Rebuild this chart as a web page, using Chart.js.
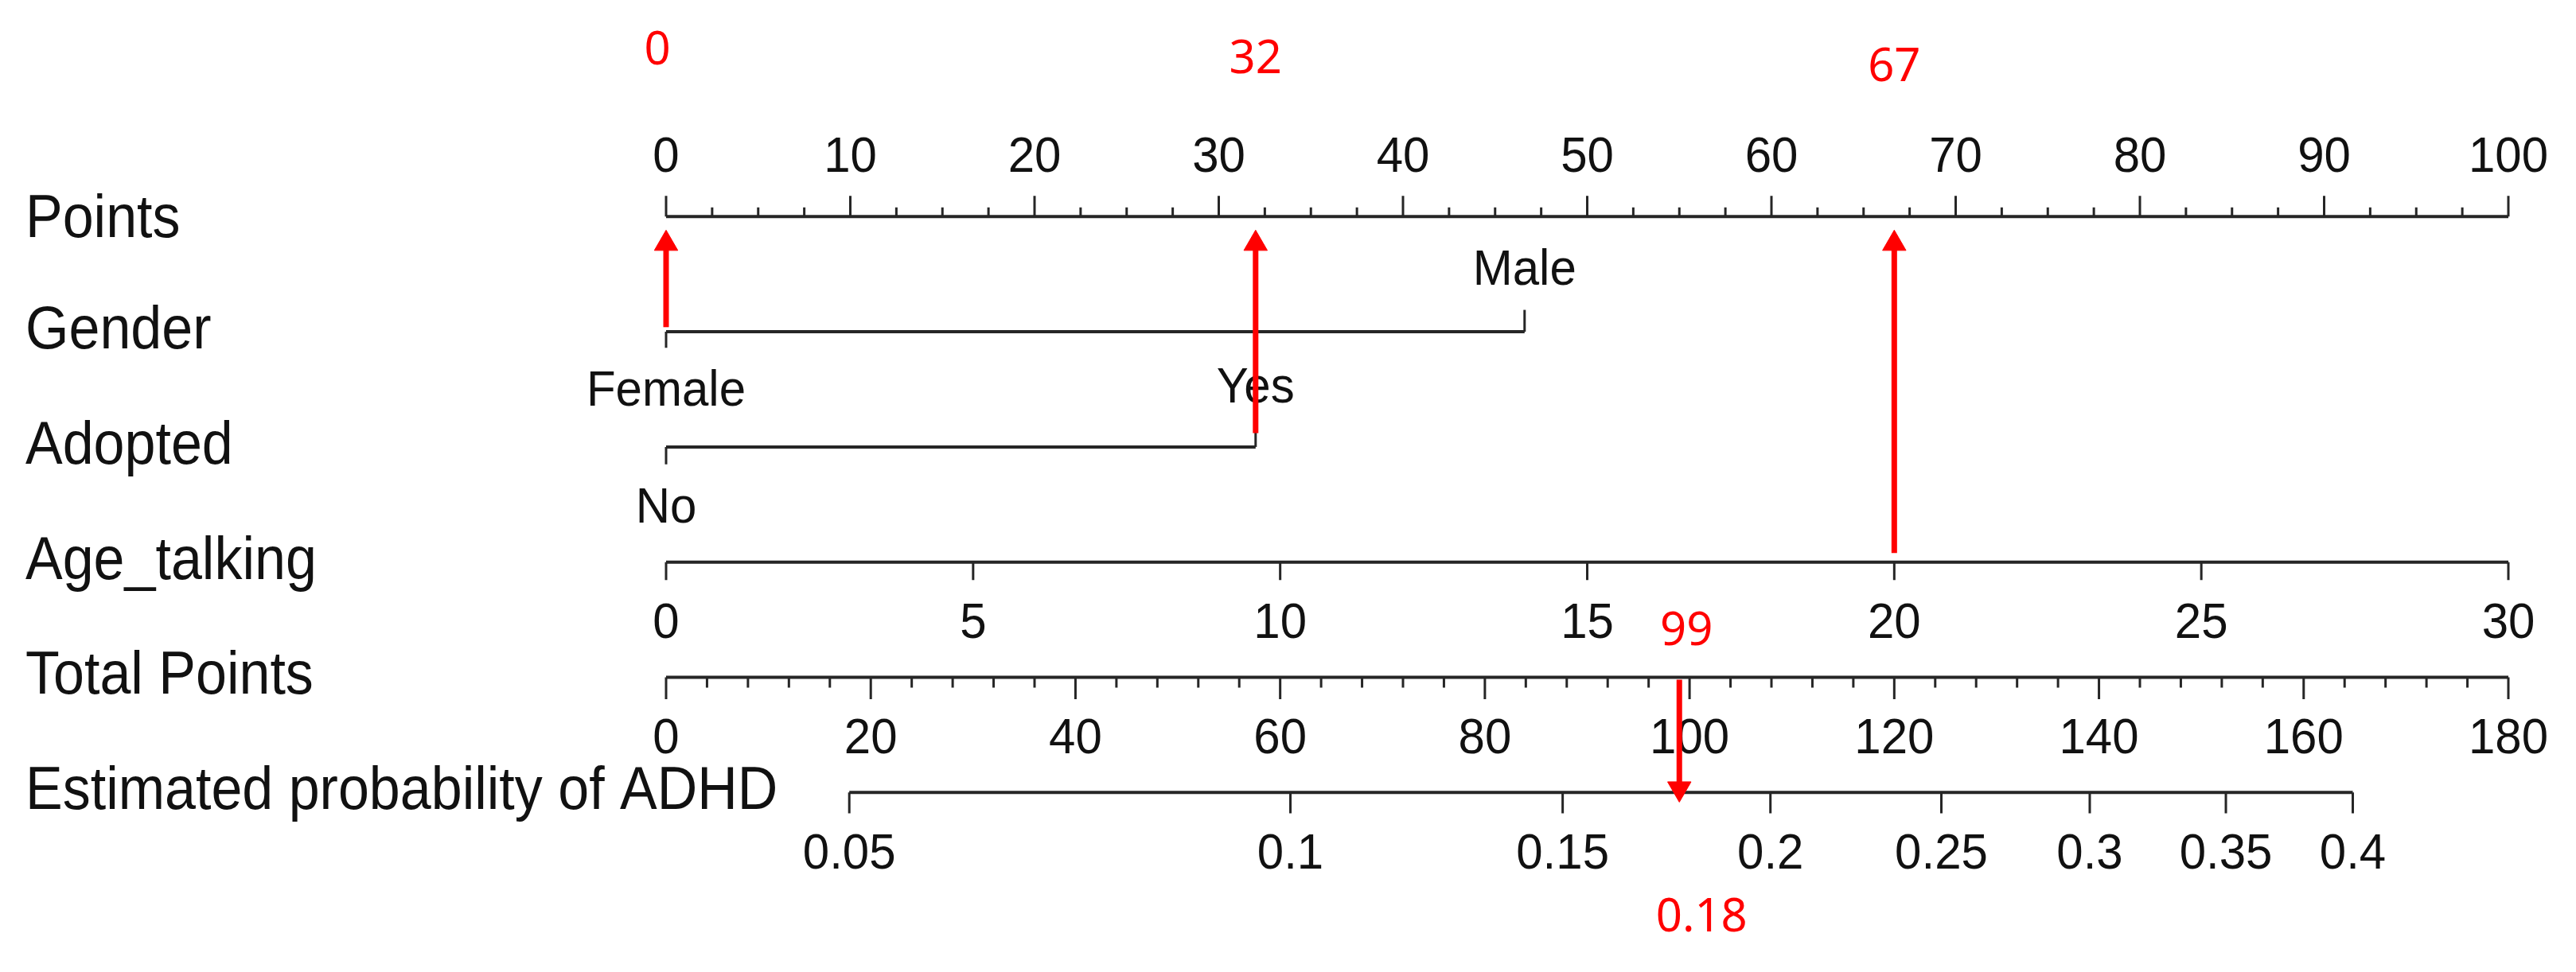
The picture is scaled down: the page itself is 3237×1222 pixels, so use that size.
<!DOCTYPE html>
<html>
<head>
<meta charset="utf-8">
<title>Nomogram - ADHD</title>
<script src="https://cdn.jsdelivr.net/npm/chart.js@4.4.1/dist/chart.umd.min.js"></script>
<style>
  html, body { margin: 0; padding: 0; background: #fff; }
  #wrap { width: 3237px; height: 1222px; position: relative; }
</style>
</head>
<body>
<div id="wrap"><canvas id="nomo"></canvas></div>
<script>
// rows of the nomogram, top to bottom
const rowLabels = ['Points', 'Gender', 'Adopted', 'Age_talking', 'Total Points', 'Estimated probability of ADHD'];

// Points scale
const pointsTicks = [0, 10, 20, 30, 40, 50, 60, 70, 80, 90, 100];
// Gender
const genderLevels = ['Female', 'Male'];
const genderPoints = [0, 46.6];
// Adopted
const adoptedLevels = ['No', 'Yes'];
const adoptedPoints = [0, 32];
// Age_talking (0..30 covers 0..100 points)
const ageTicks = [0, 5, 10, 15, 20, 25, 30];
// Total points
const totalTicks = [0, 20, 40, 60, 80, 100, 120, 140, 160, 180];
// probability ticks and where each sits on the total points scale
const probTicks = [0.05, 0.1, 0.15, 0.2, 0.25, 0.3, 0.35, 0.4];
const probAtTotal = [17.9, 61.0, 87.6, 107.9, 124.6, 139.1, 152.4, 164.8];

// worked example (red)
const caseGender = 0;      // Female
const caseAdopted = 1;     // Yes
const caseAge = 20;
const caseScores = ['0', '32', '67'];
const caseTotal = 99;
const caseProb = '0.18';

const BLACK = '#262626';
const RED = '#ff0000';
const AXIS_W = 4;
const TICK_W = 3;

// vertical tick segments, broken by null points
function ticks(values, row, len) {
  const d = [];
  values.forEach(v => {
    d.push({ x: v, y: row }, { x: v, y: row + len }, { x: v, y: null });
  });
  return d;
}

function seg(data, xAxisID, width) {
  return {
    type: 'line', data, xAxisID, yAxisID: 'y',
    borderColor: BLACK, borderWidth: width, pointRadius: 0,
    spanGaps: false, clip: false, borderCapStyle: 'butt', order: 2
  };
}

function arrow(xv, xAxisID, yFrom, yTo, down) {
  return {
    type: 'line', xAxisID, yAxisID: 'y',
    data: [{ x: xv, y: yFrom }, { x: xv, y: yTo }],
    borderColor: RED, borderWidth: 7, borderCapStyle: 'butt',
    pointRadius: [0, 17], pointStyle: 'triangle', pointRotation: down ? 180 : 0,
    pointBackgroundColor: RED, pointBorderColor: RED, pointBorderWidth: 1,
    clip: false, order: 0
  };
}

const pointsMinor = [];
for (let v = 2.5; v < 100; v += 2.5) if (v % 10 !== 0) pointsMinor.push(v);
const totalMinor = [];
for (let v = 4; v < 180; v += 4) if (v % 20 !== 0) totalMinor.push(v);

const datasets = [
  // red arrows of the example
  arrow(genderPoints[caseGender], 'x', 0.96, 0.235, false),
  arrow(adoptedPoints[caseAdopted], 'x', 1.88, 0.235, false),
  arrow(caseAge, 'xa', 2.92, 0.235, false),
  arrow(caseTotal, 'xt', 4.02, 4.966, true),

  // Points
  seg([{ x: 0, y: 0 }, { x: 100, y: 0 }], 'x', AXIS_W),
  seg(ticks(pointsTicks, 0, -0.18), 'x', TICK_W),
  seg(ticks(pointsMinor, 0, -0.08), 'x', TICK_W),
  // Gender
  seg([{ x: genderPoints[0], y: 1 }, { x: genderPoints[1], y: 1 }], 'x', AXIS_W),
  seg(ticks([genderPoints[0]], 1, 0.14), 'x', TICK_W),
  seg(ticks([genderPoints[1]], 1, -0.19), 'x', TICK_W),
  // Adopted
  seg([{ x: adoptedPoints[0], y: 2 }, { x: adoptedPoints[1], y: 2 }], 'x', AXIS_W),
  seg(ticks([adoptedPoints[0]], 2, 0.15), 'x', TICK_W),
  seg(ticks([adoptedPoints[1]], 2, -0.18), 'x', TICK_W),
  // Age_talking
  seg([{ x: ageTicks[0], y: 3 }, { x: ageTicks[ageTicks.length - 1], y: 3 }], 'xa', AXIS_W),
  seg(ticks(ageTicks, 3, 0.155), 'xa', TICK_W),
  // Total Points
  seg([{ x: totalTicks[0], y: 4 }, { x: totalTicks[totalTicks.length - 1], y: 4 }], 'xt', AXIS_W),
  seg(ticks(totalTicks, 4, 0.19), 'xt', TICK_W),
  seg(ticks(totalMinor, 4, 0.09), 'xt', TICK_W),
  // Estimated probability
  seg([{ x: probAtTotal[0], y: 5 }, { x: probAtTotal[probAtTotal.length - 1], y: 5 }], 'xt', AXIS_W),
  seg(ticks(probAtTotal, 5, 0.18), 'xt', TICK_W)
];

function txt(ctx, s, px, py, font, color, align, stretch) {
  ctx.save();
  ctx.font = font;
  ctx.fillStyle = color;
  ctx.textAlign = align;
  ctx.textBaseline = 'middle';
  ctx.translate(px, py);
  ctx.scale(1, stretch);
  ctx.fillText(s, 0, 0);
  ctx.restore();
}

const ROW_FONT = '70px "Liberation Sans", Arial, sans-serif';
const TICK_FONT = '60px "Liberation Sans", Arial, sans-serif';
const RED_FONT = '58px "Noto Sans", "Open Sans", sans-serif';
const GAP = 76;

// where the red numbers sit: pixel shift in x, row value in y
const caseLabelPos = [
  { dx: -11, y: -1.434 },
  { dx: 0, y: -1.36 },
  { dx: 0, y: -1.29 }
];
const totalLabelPos = { dx: 9, y: 3.606 };
const probLabelPos = { dx: 28, y: 6.09 };

const textPlugin = {
  id: 'nomoText',
  beforeDatasetsDraw(chart) {
    const { ctx } = chart;
    const { x, xa, xt, y } = chart.scales;
    const rowPx = i => y.getPixelForValue(i);

    rowLabels.forEach((lab, i) => {
      txt(ctx, lab, 32, rowPx(i) + (i === 0 ? 5 : 0), ROW_FONT, '#111', 'left', 1.08);
    });

    pointsTicks.forEach(v => txt(ctx, String(v), x.getPixelForValue(v), rowPx(0) - GAP + 2, TICK_FONT, '#111', 'center', 1.05));
    // categorical levels: first below, second above
    txt(ctx, genderLevels[0], x.getPixelForValue(genderPoints[0]), rowPx(1) + GAP, TICK_FONT, '#111', 'center', 1.05);
    txt(ctx, genderLevels[1], x.getPixelForValue(genderPoints[1]), rowPx(1) - GAP, TICK_FONT, '#111', 'center', 1.05);
    txt(ctx, adoptedLevels[0], x.getPixelForValue(adoptedPoints[0]), rowPx(2) + GAP + 2, TICK_FONT, '#111', 'center', 1.05);
    txt(ctx, adoptedLevels[1], x.getPixelForValue(adoptedPoints[1]), rowPx(2) - GAP + 3, TICK_FONT, '#111', 'center', 1.05);
    ageTicks.forEach(v => txt(ctx, String(v), xa.getPixelForValue(v), rowPx(3) + GAP + 2, TICK_FONT, '#111', 'center', 1.05));
    totalTicks.forEach(v => txt(ctx, String(v), xt.getPixelForValue(v), rowPx(4) + GAP + 2, TICK_FONT, '#111', 'center', 1.05));
    probTicks.forEach((p, i) => txt(ctx, String(p), xt.getPixelForValue(probAtTotal[i]), rowPx(5) + GAP + 2, TICK_FONT, '#111', 'center', 1.05));

    // red example values
    const caseX = [
      x.getPixelForValue(genderPoints[caseGender]),
      x.getPixelForValue(adoptedPoints[caseAdopted]),
      xa.getPixelForValue(caseAge)
    ];
    caseScores.forEach((s, i) => {
      txt(ctx, s, caseX[i] + caseLabelPos[i].dx, y.getPixelForValue(caseLabelPos[i].y), RED_FONT, RED, 'center', 1);
    });
    const tx = xt.getPixelForValue(caseTotal);
    txt(ctx, String(caseTotal), tx + totalLabelPos.dx, y.getPixelForValue(totalLabelPos.y), RED_FONT, RED, 'center', 1);
    txt(ctx, caseProb, tx + probLabelPos.dx, y.getPixelForValue(probLabelPos.y), RED_FONT, RED, 'center', 1);
  }
};

new Chart(document.getElementById('nomo'), {
  type: 'line',
  data: { datasets },
  options: {
    responsive: true,
    maintainAspectRatio: false,
    animation: false,
    devicePixelRatio: 1,
    events: [],
    layout: { padding: { left: 837, right: 85, top: 0, bottom: 0 } },
    scales: {
      x: { type: 'linear', min: 0, max: 100, display: false },
      xa: { type: 'linear', axis: 'x', position: 'bottom', min: 0, max: 30, display: false },
      xt: { type: 'linear', axis: 'x', position: 'bottom', min: 0, max: 180, display: false },
      y: { type: 'linear', min: -1.756, max: 6.434, reverse: true, display: false }
    },
    plugins: {
      legend: { display: false },
      tooltip: { enabled: false }
    }
  },
  plugins: [textPlugin]
});
</script>
</body>
</html>
